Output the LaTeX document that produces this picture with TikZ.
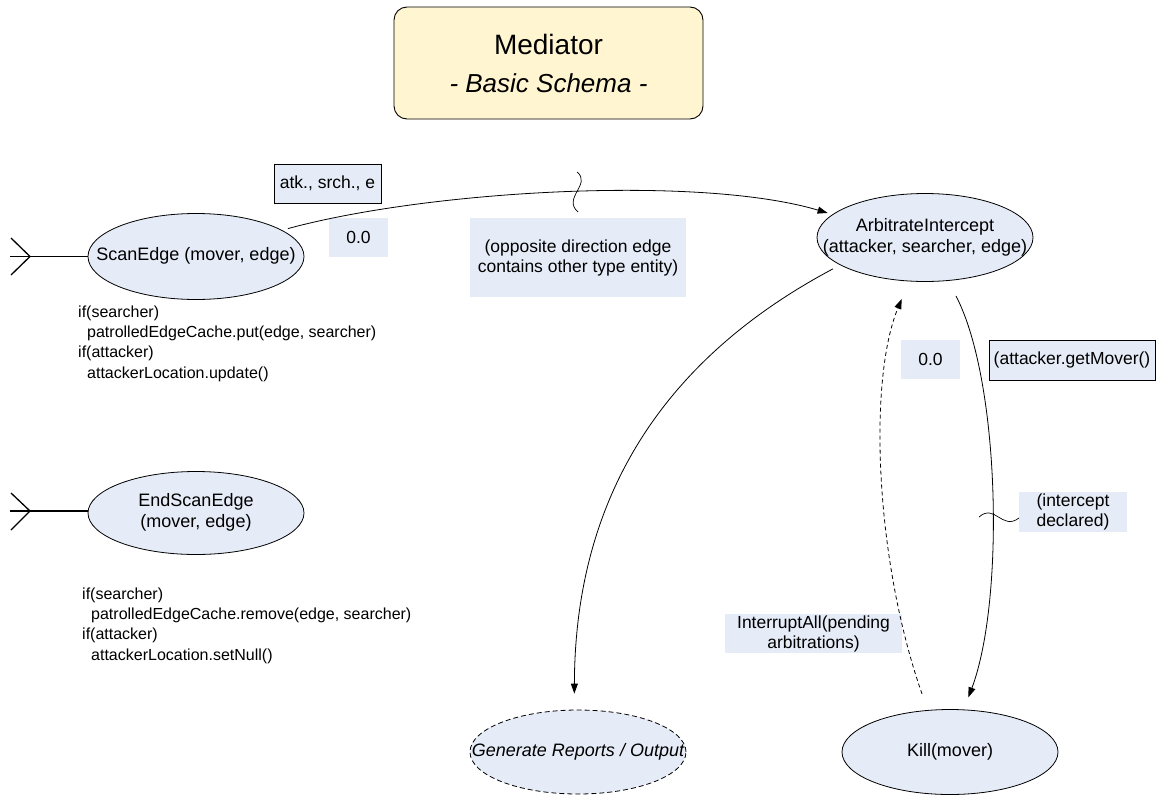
\documentclass[tikz,border=0pt]{standalone}
\usepackage{fontspec}
\setmainfont{Liberation Sans}
\usetikzlibrary{shapes.geometric,arrows.meta}
\definecolor{nodefill}{RGB}{230,236,247}
\definecolor{titlefill}{RGB}{255,245,208}
\newcommand\zb[1]{\makebox[0pt]{\begin{tabular}{@{}c@{}}#1\end{tabular}}}
\newcommand\fsz[2]{\fontsize{#1pt}{#2pt}\selectfont}
\begin{document}
\begin{tikzpicture}[x=1pt,y=-1pt,
 bubble/.style={ellipse, draw=black, line width=0.8pt, fill=nodefill, minimum width=216pt, minimum height=86pt, inner sep=0pt, font=\fsz{18}{21}},
 lbl/.style={fill=nodefill, inner sep=0pt, font=\fsz{17.5}{20}, align=center},
 lblbox/.style={lbl, draw=black, line width=0.8pt},
 code/.style={anchor=north west, inner sep=0pt, font=\fsz{16}{20.3}},
 conn/.style={line width=0.8pt, -{Triangle[length=10pt,width=7pt]}},
 foot/.style={line width=1.3pt},
 squig/.style={line width=0.7pt},
 titlebox/.style={rectangle, rounded corners=13pt, draw=black, line width=0.9pt, fill=titlefill, minimum width=309pt, minimum height=112pt, inner sep=0pt, font=\fsz{28}{38}}
]
\useasboundingbox (0,0) rectangle (1159,795);

% title
\node[titlebox] (title) at (548.5,63) {\begin{tabular}{@{}c@{}}\rule{0pt}{32.6pt}Mediator\\{\fsz{26}{38}\itshape - Basic Schema -}\end{tabular}};

% states
\node[bubble] (scan) at (196,256.5) {\zb{ScanEdge (mover, edge)}};
\node[bubble, minimum height=83pt] (endscan) at (196,513) {\zb{EndScanEdge\\(mover, edge)}};
\node[bubble, minimum height=88pt] (arb) at (925,237.5) {\zb{ArbitrateIntercept\\(attacker, searcher, edge)}};
\node[bubble, minimum height=84pt, dash pattern=on 5pt off 3pt] (gen) at (578,752) {\zb{\itshape Generate Reports / Output}};
\node[bubble, minimum height=85pt] (kill) at (950,752) {\zb{Kill(mover)}};

% entry feet
\coordinate (sIn) at (10,256.5);
\coordinate (sTip) at (30,256.5);
\draw[foot] (sIn) -- (scan.west);
\draw[foot] (11,238) -- (sTip) -- (11,275);
\coordinate (eIn) at (10,511);
\coordinate (eTip) at (30,511);
\draw[foot] (eIn) -- (eIn -| endscan.west);
\draw[foot] (11,493) -- (eTip) -- (11,530);

% code annotations
\node[code] (scancode) at (78,302.8) {\begin{tabular}{@{}l@{}}if(searcher)\\\hspace*{9pt}patrolledEdgeCache.put(edge, searcher)\\if(attacker)\\\hspace*{9pt}attackerLocation.update()\end{tabular}};
\node[code] (endcode) at (82,584.8) {\begin{tabular}{@{}l@{}}if(searcher)\\\hspace*{9pt}patrolledEdgeCache.remove(edge, searcher)\\if(attacker)\\\hspace*{9pt}attackerLocation.setNull()\end{tabular}};

% labels
\node[lblbox, minimum width=107pt, minimum height=39pt] (lbatk) at (327.5,183.5) {atk., srch., e};
\node[lbl, minimum width=59pt, minimum height=39pt] (lbz1) at (358.5,237.5) {0.0};
\node[lbl, minimum width=216pt, minimum height=79pt] (lbopp) at (578,257.5) {(opposite direction edge\\contains other type entity)};
\node[lbl, minimum width=59pt, minimum height=39pt] (lbz2) at (930.5,359.5) {0.0};
\node[lblbox, minimum width=166pt, minimum height=40pt] (lbget) at (1072,360) {(attacker.getMover()};
\node[lbl, minimum width=108pt, minimum height=40pt] (lbint) at (1073,512) {(intercept\\declared)};
\node[lbl, minimum width=177pt, minimum height=39pt] (lbirq) at (813.5,633.5) {InterruptAll(pending\\arbitrations)};

% connectors
\draw[conn, shorten <=6pt, shorten >=5pt] (scan.17) .. controls (430,190) and (700,175) .. (arb.166);
\draw[conn, shorten <=8pt, shorten >=16pt] (arb.198) .. controls (680,350) and (575,480) .. (gen.95);
\draw[conn, shorten <=17pt, shorten >=13pt] (arb.-62) .. controls (1000,380) and (1005,600) .. (kill.72);
\draw[conn, dash pattern=on 4pt off 3pt, shorten <=17pt, shorten >=19pt] (kill.118) .. controls (875,560) and (868,380) .. (arb.-110);

% squiggles
\draw[squig] (577,172) .. controls (592,184) and (562,198) .. (578,212);
\draw[squig] (979,517) .. controls (995,503) and (1002,531) .. (1019,518);
\end{tikzpicture}
\end{document}
